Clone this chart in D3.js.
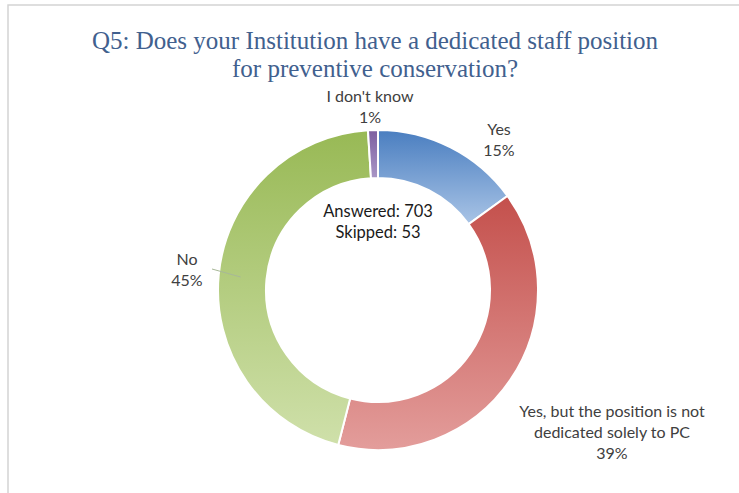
<!DOCTYPE html>
<html>
<head>
<meta charset="utf-8">
<script src="https://cdn.jsdelivr.net/npm/d3@7"></script>
<style>
  body { margin: 0; background: white; }
</style>
</head>
<body>
<div id="container"></div>
<script>
let w = 739;
let h = 493;

// data
let categories = ["Yes", "Yes, but the position is not dedicated solely to PC", "No", "I don't know"];
let values = [15, 39, 45, 1];
let labelLines = [["Yes", "15%"], ["Yes, but the position is not", "dedicated solely to PC", "39%"], ["No", "45%"], ["I don't know", "1%"]];
let answered = 703;
let skipped = 53;

// gradient colours, top -> bottom
let colTop = ["#4a7ec0", "#c4504c", "#98b955", "#7d5fa0"];
let colBottom = ["#a9c4e6", "#e39d9b", "#cfe0aa", "#a996c6"];

let cx = 378, cy = 290, rOuter = 160, rInner = 112;

let viz = d3.select("#container")
  .append("svg")
    .attr("width", w)
    .attr("height", h)
    .style("background-color", "White");

// chart frame
viz.append("rect")
  .attr("x", 8).attr("y", 5)
  .attr("width", w + 10).attr("height", h + 10)
  .attr("fill", "none")
  .attr("stroke", "#d4d4d4")
  .attr("stroke-width", 1.5);

// title
let title = viz.append("text")
  .attr("text-anchor", "middle")
  .style("font-family", "'Liberation Serif', serif")
  .style("font-size", "25px")
  .attr("fill", "#41608e");
title.append("tspan").attr("x", 375).attr("y", 49).text("Q5: Does your Institution have a dedicated staff position");
title.append("tspan").attr("x", 375).attr("y", 77).text("for preventive conservation?");

let defs = viz.append("defs");
values.forEach(function(v, i){
  let g = defs.append("linearGradient")
    .attr("id", "grad" + i)
    .attr("x1", 0).attr("y1", 0).attr("x2", 0).attr("y2", 1);
  g.append("stop").attr("offset", "0%").attr("stop-color", colTop[i]);
  g.append("stop").attr("offset", "100%").attr("stop-color", colBottom[i]);
});

let pie = d3.pie().sort(null).value(d => d);
let arc = d3.arc().innerRadius(rInner).outerRadius(rOuter);
let arcs = pie(values);

let ring = viz.append("g").attr("transform", "translate(" + cx + "," + cy + ")");
ring.selectAll("path")
  .data(arcs)
  .enter()
  .append("path")
  .attr("d", arc)
  .attr("fill", (d, i) => "url(#grad" + i + ")")
  .attr("stroke", "white")
  .attr("stroke-width", 2);

// label positions (relative to chart centre)
let labelPos = [[121, -155], [234, 127], [-191, -25], [-8, -188]];
let lineH = 21;

arcs.forEach(function(d, i){
  let lines = labelLines[i];
  let t = ring.append("text")
    .attr("text-anchor", "middle")
    .style("font-family", "Lato, 'Open Sans', sans-serif")
    .style("font-size", "16px")
    .attr("fill", "#404040");
  lines.forEach(function(s, k){
    t.append("tspan")
      .attr("x", labelPos[i][0])
      .attr("y", labelPos[i][1] + k * lineH)
      .text(s);
  });
});

// leader line for "No"
let noAngle = (arcs[2].startAngle + arcs[2].endAngle) / 2;
let lr = rOuter - 22;
ring.append("line")
  .attr("x1", -166).attr("y1", -21)
  .attr("x2", lr * Math.sin(noAngle)).attr("y2", -lr * Math.cos(noAngle))
  .attr("stroke", "#a8b898")
  .attr("stroke-width", 1);

// centre text
let ct = ring.append("text")
  .attr("text-anchor", "middle")
  .style("font-family", "Lato, 'Open Sans', sans-serif")
  .style("font-size", "16.5px")
  .attr("fill", "#1a1a1a");
ct.append("tspan").attr("x", 0).attr("y", -73).text("Answered: " + answered);
ct.append("tspan").attr("x", 0).attr("y", -52).text("Skipped: " + skipped);
</script>
</body>
</html>
